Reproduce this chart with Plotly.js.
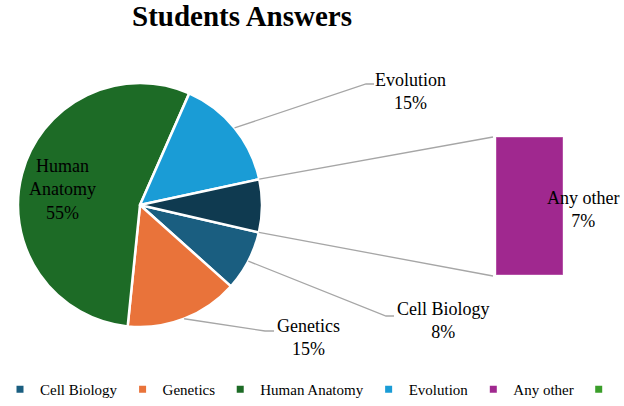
<!DOCTYPE html>
<html><head><meta charset="utf-8">
<script src="https://cdn.plot.ly/plotly-3.0.1.min.js"></script>
<style>body{margin:0;background:#fff}</style>
</head><body><div id="chart" style="width:624px;height:406px"></div>
<script>
// ---- data ----
const categories = ['Cell Biology', 'Genetics', 'Human Anatomy', 'Evolution', 'Any other'];
const percentages = [8, 15, 55, 15, 7];
const barCategories = ['Any other'];
const barValues = [7];
const legendNames = ['Cell Biology', 'Genetics', 'Human Anatomy', 'Evolution', 'Any other', ' '];

// ---- styles ----
const sliceColors = ['#1a5e80', '#e9733a', '#1d6b26', '#1a9cd6', '#0f3a50'];
const legendColors = ['#1a5e80', '#e9733a', '#1d6b26', '#1a9cd6', '#a0288f', '#3a9e2a'];
const FONT = 'Liberation Serif, Times New Roman, serif';
const W = 624, H = 406;
const CX = 140, CY = 205, R = 122, START = 103;
const BAR_L = 496, BAR_R = 563, BAR_T = 137, BAR_B = 275;
const LINE = '#a6a6a6';

// slice angles from the data
const total = percentages.reduce((a, b) => a + b, 0);
const angles = [];
let acc = START;
percentages.forEach(v => { const a0 = acc; acc += v / total * 360; angles.push([a0, acc]); });
function edge(deg) {
  const r = deg * Math.PI / 180;
  return [CX + R * Math.sin(r), CY - R * Math.cos(r)];
}
function mid(i) { return edge((angles[i][0] + angles[i][1]) / 2); }

// label placement (layout)
const labelPos = {
  'Evolution': {x: 410, y: 91, elbow: [[366, 84], [374, 84]]},
  'Cell Biology': {x: 443, y: 320, elbow: [[386, 316], [394, 316]]},
  'Genetics': {x: 308, y: 337, elbow: [[265, 331], [274, 331]]}
};

const shapes = [];
const annotations = [];
Object.keys(labelPos).forEach(name => {
  const i = categories.indexOf(name);
  const p = mid(i);
  const lp = labelPos[name];
  shapes.push({type: 'path', xref: 'x', yref: 'y',
    path: `M${p[0]},${p[1]} L${lp.elbow[0][0]},${lp.elbow[0][1]} L${lp.elbow[1][0]},${lp.elbow[1][1]}`,
    line: {color: LINE, width: 1.3}});
  annotations.push({xref: 'x', yref: 'y', x: lp.x, y: lp.y, showarrow: false,
    text: name + '<br>' + percentages[i] + '%', align: 'center',
    font: {family: FONT, size: 18, color: '#000'}});
});
// Human Anatomy inside label
{
  const i = categories.indexOf('Human Anatomy');
  annotations.push({xref: 'x', yref: 'y', x: 62, y: 189, showarrow: false,
    text: 'Human<br>Anatomy<br>' + percentages[i] + '%', align: 'center',
    font: {family: FONT, size: 18, color: '#000'}});
}
// Any other bar label
annotations.push({xref: 'x', yref: 'y', x: 583, y: 209, showarrow: false,
  text: barCategories[0] + '<br>' + barValues[0] + '%', align: 'center',
  font: {family: FONT, size: 18, color: '#000'}});

// connector lines pie -> bar
const oi = categories.indexOf('Any other');
const pTop = edge(angles[oi][0]), pBot = edge(angles[oi][1]);
shapes.push({type: 'line', xref: 'x', yref: 'y', x0: pTop[0], y0: pTop[1], x1: BAR_L - 3, y1: BAR_T, line: {color: LINE, width: 1.3}});
shapes.push({type: 'line', xref: 'x', yref: 'y', x0: pBot[0], y0: pBot[1], x1: BAR_L - 3, y1: BAR_B + 1, line: {color: LINE, width: 1.3}});

const traces = [];
traces.push({
  type: 'pie', labels: categories, values: percentages, sort: false,
  direction: 'clockwise', rotation: START,
  marker: {colors: sliceColors, line: {color: '#ffffff', width: 2.5}},
  textinfo: 'none', hoverinfo: 'label+percent', showlegend: false,
  domain: {x: [(CX - R) / W, (CX + R) / W], y: [(H - CY - R) / H, (H - CY + R) / H]}
});
traces.push({
  type: 'bar', x: barCategories, y: barValues, xaxis: 'x2', yaxis: 'y2', width: 1,
  marker: {color: '#a0288f', line: {color: '#c878bc', width: 1}}, showlegend: false,
  hoverinfo: 'x+y'
});
legendNames.forEach((n, k) => {
  traces.push({type: 'scatter', mode: 'markers', x: [null], y: [null], name: n,
    marker: {symbol: 'square', size: 7, color: legendColors[k]}, hoverinfo: 'skip'});
});

const hidden = {visible: false, showgrid: false, zeroline: false, fixedrange: true};
const layout = {
  width: W, height: H,
  margin: {l: 0, r: 0, t: 0, b: 0},
  paper_bgcolor: '#ffffff', plot_bgcolor: 'rgba(0,0,0,0)',
  font: {family: FONT, color: '#000'},
  title: {text: '<b>Students Answers</b>', x: 242 / W, xanchor: 'center',
    y: 1 - 16 / H, yanchor: 'middle', yref: 'container',
    font: {family: FONT, size: 29, color: '#000'}},
  xaxis: Object.assign({range: [0, W], domain: [0, 1]}, hidden),
  yaxis: Object.assign({range: [H, 0], domain: [0, 1]}, hidden),
  xaxis2: Object.assign({range: [-0.5, 0.5], domain: [BAR_L / W, BAR_R / W], anchor: 'y2', type: 'category'}, hidden),
  yaxis2: Object.assign({range: [0, barValues[0]], domain: [(H - BAR_B) / H, (H - BAR_T) / H], anchor: 'x2'}, hidden),
  showlegend: true,
  legend: {orientation: 'h', x: 0, xanchor: 'left', y: 0, yanchor: 'bottom',
    font: {family: FONT, size: 15, color: '#000'}, bgcolor: 'rgba(0,0,0,0)', itemwidth: 30, tracegroupgap: 0},
  shapes: shapes, annotations: annotations
};
Plotly.newPlot('chart', traces, layout, {displayModeBar: false, staticPlot: false});
</script></body></html>
